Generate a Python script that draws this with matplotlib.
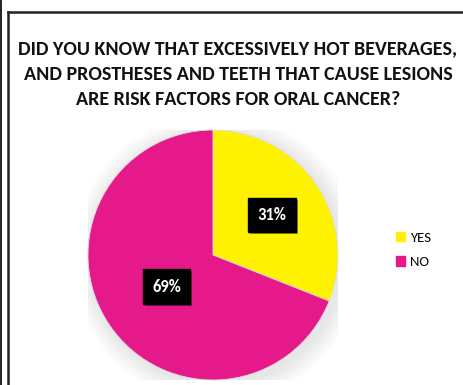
import matplotlib
matplotlib.use("Agg")
import matplotlib.pyplot as plt
import numpy as np
from matplotlib.lines import Line2D
from matplotlib.patches import Circle
import matplotlib.patheffects as pe
from matplotlib import font_manager

names = {f.name for f in font_manager.fontManager.ttflist}
FONT = next((n for n in ["Carlito", "Open Sans", "Lato"] if n in names), "DejaVu Sans")

title = "DID YOU KNOW THAT EXCESSIVELY HOT BEVERAGES,\nAND PROSTHESES AND TEETH THAT CAUSE LESIONS\nARE RISK FACTORS FOR ORAL CANCER?"
categories = ["YES", "NO"]
values = [31, 69]
colors = ["#FFF200", "#E5198A"]
label_dist = [0.57, 0.45]

W, H = 464, 385
fig = plt.figure(figsize=(W / 100, H / 100), dpi=100)
fig.patch.set_facecolor("white")

fig.add_artist(Line2D([1.5 / W, 1.5 / W], [0, 1], color="#222222", lw=1.4))
fig.add_artist(Line2D([7.5 / W, 7.5 / W], [0, 1 - 12 / H], color="#222222", lw=1.8))
fig.add_artist(Line2D([7.5 / W, 1], [1 - 12 / H, 1 - 12 / H], color="#222222", lw=1.8))

fig.text(238 / W, 1 - 74 / H, title, ha="center", va="center", fontsize=14.4,
         fontweight="bold", family=FONT, linespacing=1.62, color="#111111")

cx, cy, r = 213, 255, 125
ax = fig.add_axes([(cx - r) / W, (H - cy - r) / H, 2 * r / W, 2 * r / H])

for i in range(8):
    ax.add_patch(Circle((0.03, -0.03), 1.0 + 0.02 * (8 - i), color="#000000",
                        alpha=0.012, lw=0, zorder=0))

wedges, _ = ax.pie(values, colors=colors, startangle=90, counterclock=False,
                   radius=1.0, wedgeprops=dict(linewidth=0.6, edgecolor="#dddddd"))
for w in wedges:
    w.set_zorder(2)
ax.set_xlim(-1, 1)
ax.set_ylim(-1, 1)
ax.set_aspect("equal")
ax.axis("off")

total = sum(values)
start = 90.0
for v, d in zip(values, label_dist):
    ang = np.deg2rad(start - v / total * 360 / 2)
    start -= v / total * 360
    ax.text(d * np.cos(ang), d * np.sin(ang), f"{v}%", ha="center", va="center",
            fontsize=12, fontweight="bold", family=FONT, color="white", zorder=5,
            bbox=dict(boxstyle="square,pad=0.55", facecolor="black", edgecolor="black",
                      path_effects=[pe.withSimplePatchShadow(offset=(1.5, -1.5), alpha=0.4)]))

handles = [plt.Rectangle((0, 0), 1, 1, color=col) for col in colors]
fig.legend(handles, categories, loc="center left", bbox_to_anchor=(383 / W, 1 - 250 / H),
           frameon=False, prop=dict(family=FONT, size=10.5), handlelength=0.6,
           handleheight=0.6, handletextpad=0.35, labelspacing=0.85)

fig.savefig("out.png", dpi=100, facecolor="white")
